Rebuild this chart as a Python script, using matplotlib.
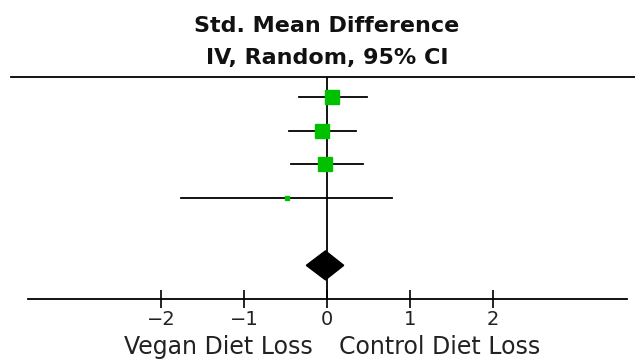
import matplotlib
matplotlib.use("Agg")
import matplotlib.pyplot as plt
from matplotlib.patches import Polygon

# ── 数据───────────────────────────────────
study_est = [0.06, -0.06, -0.02, -0.48]
study_lo = [-0.34, -0.46, -0.43, -1.76]
study_hi = [0.48, 0.35, 0.43, 0.78]
study_weight = [32.0, 33.0, 32.5, 2.5]   # %
pooled = (-0.02, -0.25, 0.20)            # est, lo, hi
xticks = [-2, -1, 0, 1, 2]
xticklabels = ["\u22122", "\u22121", "0", "1", "2"]
title_lines = ["Std. Mean Difference", "IV, Random, 95% CI"]
left_label = "Vegan Diet Loss"
right_label = "Control Diet Loss"

GREEN = "#00c000"

fig = plt.figure(figsize=(6.35, 3.63), dpi=100)
ax = fig.add_axes([28 / 635, 1 - 299 / 363, 599 / 635, 222 / 363])
ax.set_xlim(-3.60, 3.61)
ax.set_ylim(7.0, 0.4)

for s in ["top", "left", "right"]:
    ax.spines[s].set_visible(False)
ax.spines["bottom"].set_linewidth(1.3)
ax.set_yticks([])
ax.set_xticks(xticks)
ax.set_xticklabels(xticklabels, fontsize=14, color="#222222")
ax.tick_params(axis="x", direction="inout", length=12.5, width=1.2, pad=2)

# 顶部横线（比坐标轴更宽）
ax.plot([-3.80, 3.72], [0.4, 0.4], color="black", lw=1.3, clip_on=False)
# 零线
ax.plot([0, 0], [0.4, 7.0], color="black", lw=1.3, zorder=2)

# 各研究的置信区间和方块
for i, (e, lo, hi, w) in enumerate(zip(study_est, study_lo, study_hi, study_weight)):
    y = i + 1
    ax.plot([lo, hi], [y, y], color="black", lw=1.3, zorder=3)
    ms = 1.85 * w ** 0.5
    ax.plot(e, y, marker="s", ms=ms, color=GREEN, mec=GREEN, zorder=4)

# 合并效应菱形
est, lo, hi = pooled
yd, hh = 6, 0.43
ax.add_patch(Polygon([(lo, yd), (est, yd - hh), (hi, yd), (est, yd + hh)],
                     closed=True, facecolor="black", edgecolor="black", zorder=5))

# 标题
fig.text(327 / 635, 1 - 26 / 363, title_lines[0], ha="center", va="center",
         fontsize=16, fontweight="bold", color="#111111")
fig.text(327 / 635, 1 - 58 / 363, title_lines[1], ha="center", va="center",
         fontsize=16, fontweight="bold", color="#111111")

# 方向标签
ax.text(-0.17, -0.215, left_label, transform=ax.get_xaxis_transform(),
        ha="right", va="center", fontsize=17, color="#222222")
ax.text(0.14, -0.215, right_label, transform=ax.get_xaxis_transform(),
        ha="left", va="center", fontsize=17, color="#222222")

fig.savefig("out.png", dpi=100)
